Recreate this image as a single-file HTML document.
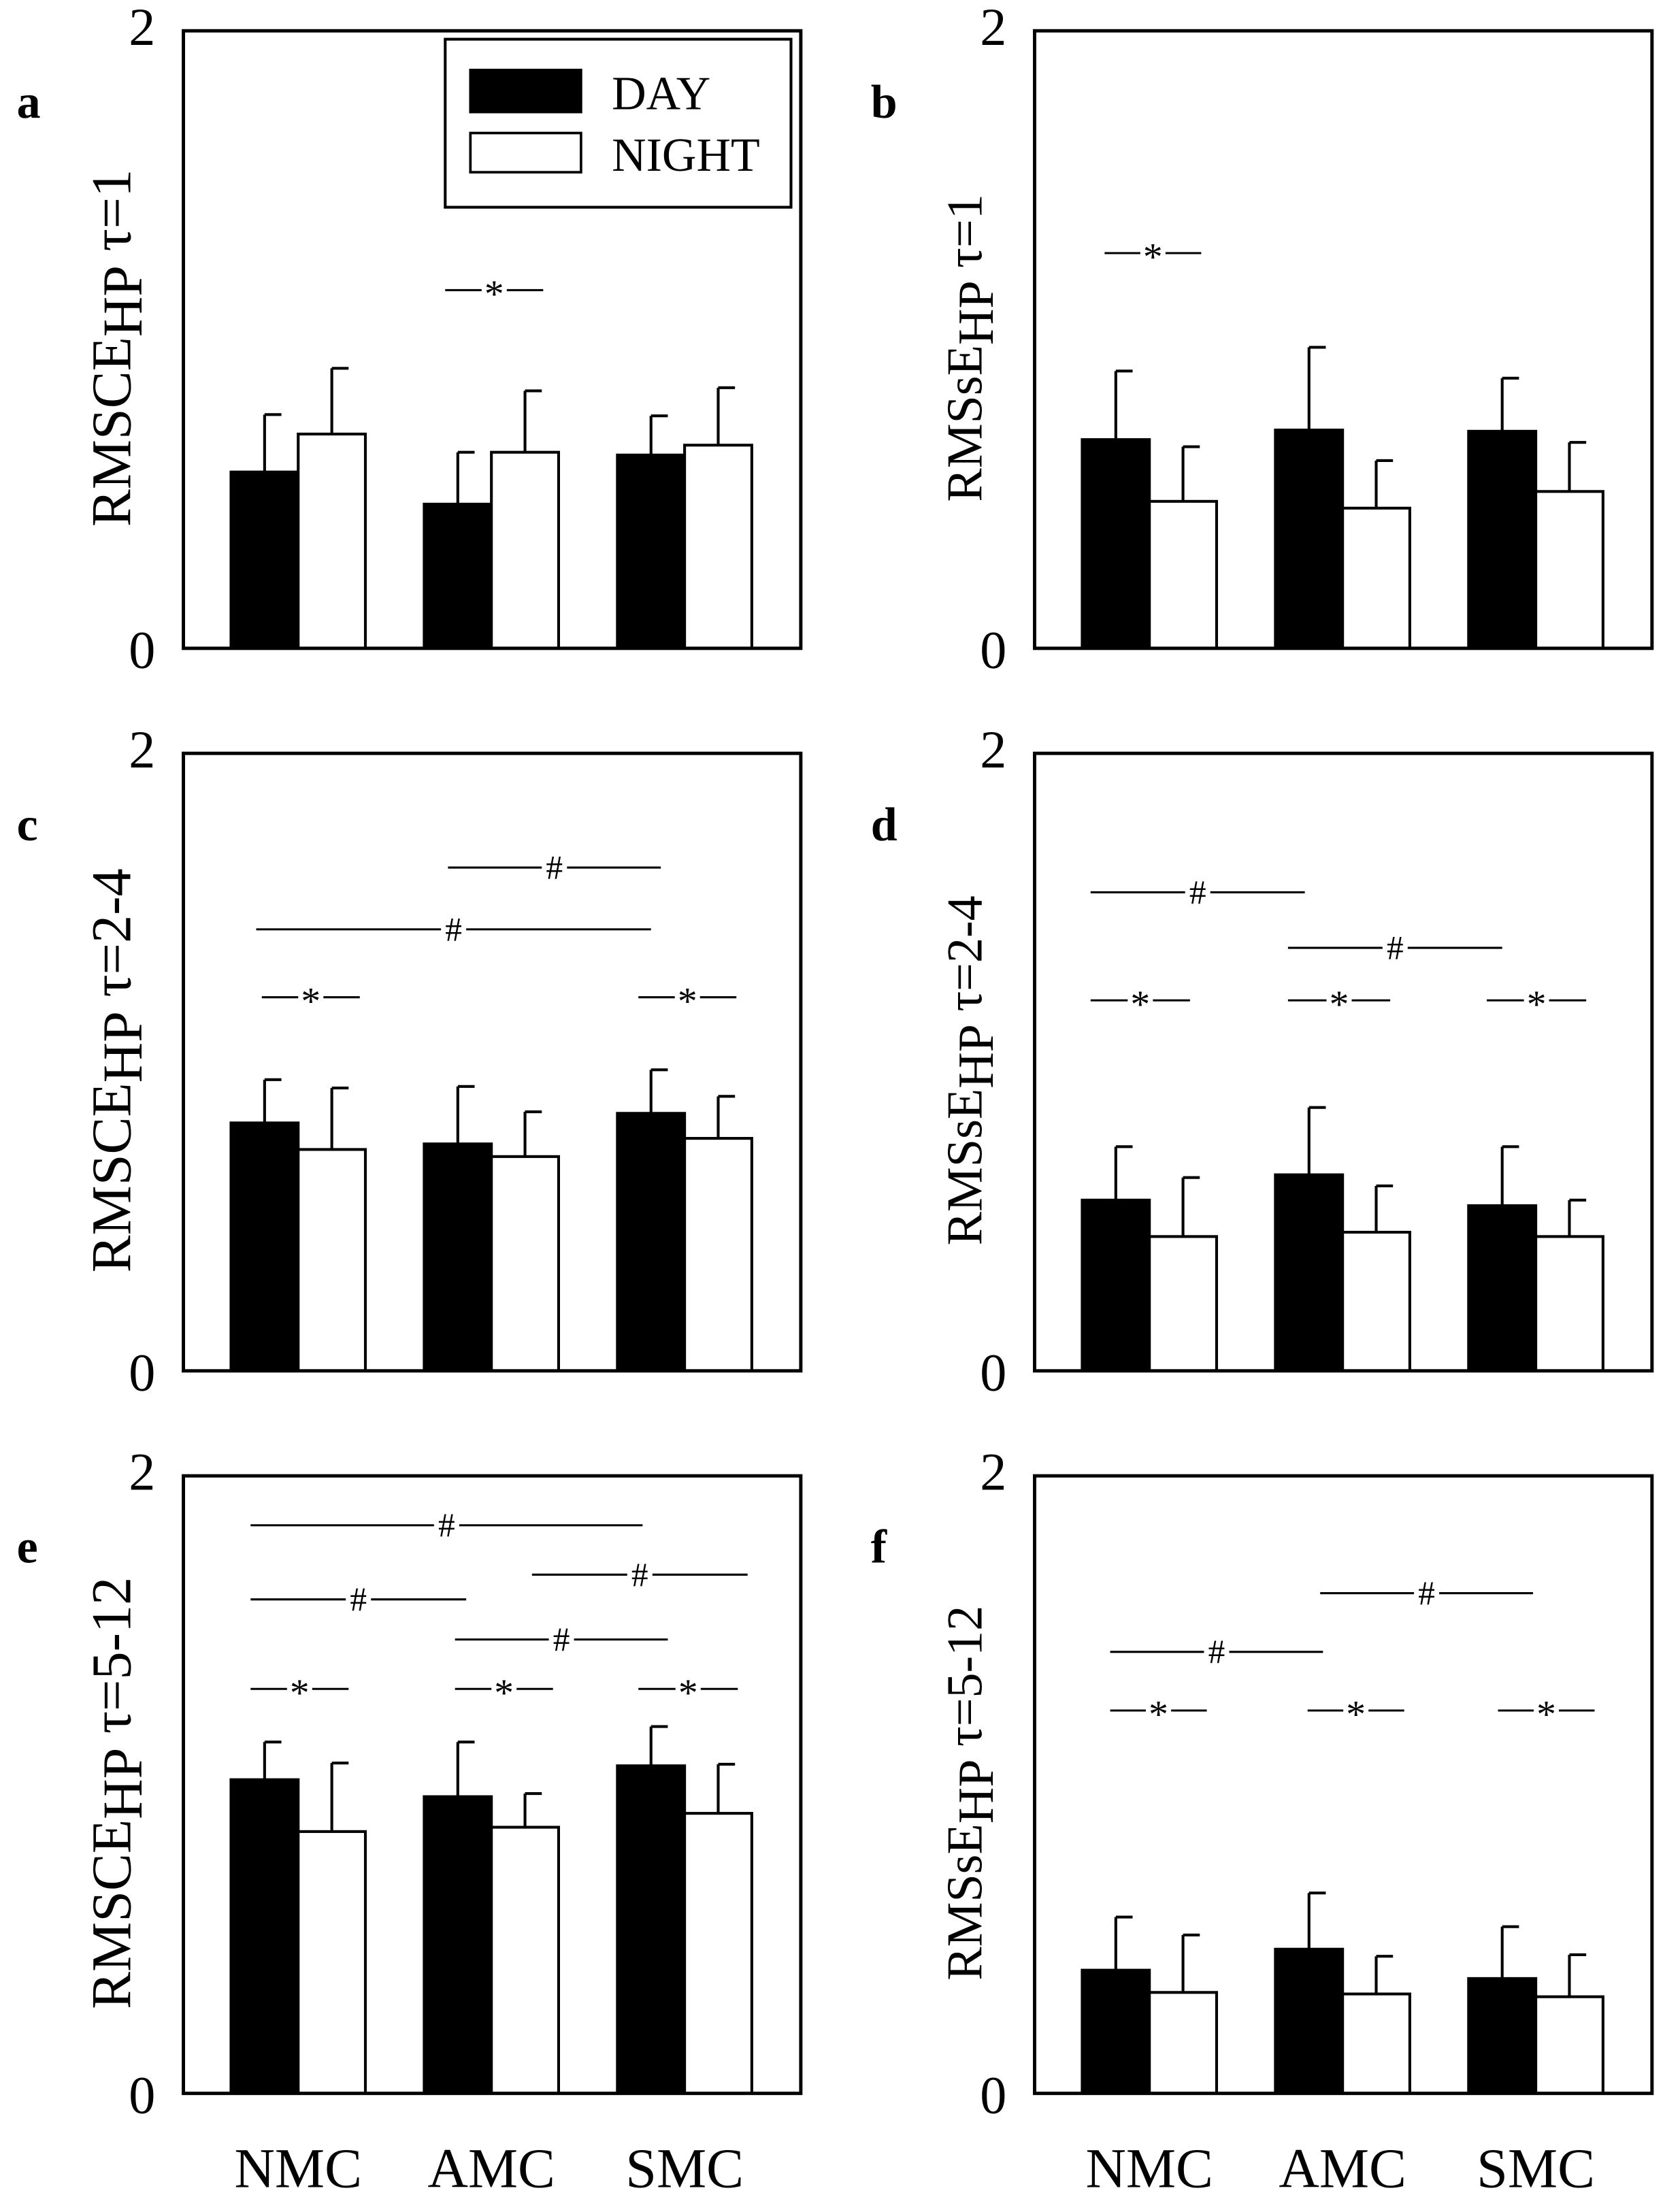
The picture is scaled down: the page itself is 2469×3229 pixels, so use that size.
<!DOCTYPE html>
<html><head><meta charset="utf-8">
<style>
html,body{margin:0;padding:0;background:#fff;}
svg{display:block;}
text{font-family:"Liberation Serif",serif;fill:#000;}
</style></head>
<body>
<svg id="fig" width="2469" height="3229" viewBox="0 0 1200 1569" preserveAspectRatio="none" xmlns="http://www.w3.org/2000/svg"></svg>
<script>
const categories = ["NMC","AMC","SMC"];
const panelLetters = ["a","b","c","d","e","f"];
const dayMeans = [
  [0.571,0.467,0.626],[0.676,0.707,0.703],
  [0.803,0.735,0.834],[0.553,0.635,0.535],
  [1.016,0.961,1.061],[0.399,0.467,0.372]];
const dayErr = [
  [0.757,0.635,0.753],[0.898,0.975,0.875],
  [0.943,0.921,0.975],[0.726,0.853,0.726],
  [1.138,1.138,1.188],[0.571,0.649,0.540]];
const nightMeans = [
  [0.694,0.635,0.658],[0.476,0.454,0.508],
  [0.717,0.694,0.753],[0.435,0.449,0.435],
  [0.848,0.862,0.907],[0.327,0.322,0.313]];
const nightErr = [
  [0.907,0.834,0.844],[0.653,0.608,0.667],
  [0.916,0.839,0.889],[0.626,0.599,0.553],
  [1.070,0.971,1.066],[0.513,0.444,0.449]];
const yTicks = [0,2];
const yLabelMain = ["RMSCE","RMSsE","RMSCE","RMSsE","RMSCE","RMSsE"];
const yLabelTau = ["τ=1","τ=1","τ=2-4","τ=2-4","τ=5-12","τ=5-12"];
const annotations = [
  [[318,388,1.16,'*']],
  [[789,858,1.28,'*']],
  [[320,472,1.63,'#'],[183,465,1.43,'#'],[187,257,1.21,'*'],[456,526,1.21,'*']],
  [[779,932,1.55,'#'],[920,1073,1.37,'#'],[779,850,1.20,'*'],[920,993,1.20,'*'],[1062,1133,1.20,'*']],
  [[179,459,1.84,'#'],[179,333,1.60,'#'],[380,534,1.68,'#'],[325,477,1.47,'#'],[179,249,1.31,'*'],[325,395,1.31,'*'],[456,527,1.31,'*']],
  [[943,1095,1.62,'#'],[793,945,1.43,'#'],[793,862,1.24,'*'],[934,1003,1.24,'*'],[1070,1139,1.24,'*']]
];
const NS="http://www.w3.org/2000/svg";
const svg=document.getElementById('fig');
function mk(tag,attrs,parent){const e=document.createElementNS(NS,tag);for(const k in attrs)e.setAttribute(k,attrs[k]);(parent||svg).appendChild(e);return e;}
const colX=[131,739], rowY=[22,538,1054], W=441, H=441;
for(let p=0;p<6;p++){
  const col=p%2,row=Math.floor(p/2);
  const x0=colX[col], y0=rowY[row];
  const yS=v=>y0+H-v/2*H;
  const xS=(g,s)=>x0+34+g*138+s*48;
  const g=mk('g',{});
  
  
  for(let i=0;i<3;i++){
    [[dayMeans,dayErr,'#000','day'],[nightMeans,nightErr,'#fff','night']].forEach((s,si)=>{
      const m=s[0][p][i], e=s[1][p][i];
      const bx=xS(i,si), cx=bx+24;
      const ln=mk('line',{x1:cx,x2:cx,y1:yS(m),y2:yS(e),stroke:'#000','stroke-width':2},g);
      
      
      const cap=mk('line',{x1:cx,x2:cx+12,y1:yS(e),y2:yS(e),stroke:'#000','stroke-width':2},g);
      
      
      const r=mk('rect',{x:bx,y:yS(m),width:48,height:yS(0)-yS(m),fill:s[2],stroke:'#000','stroke-width':2},g);
      
      
    });
  }
  const box=mk('rect',{x:x0,y:y0,width:W,height:H,fill:'none',stroke:'#000','stroke-width':2.4},g);
  
  
  yTicks.forEach(t=>{
    const tx=mk('text',{x:x0-20,y:yS(t)+(t===0?14:10),'font-size':38,'text-anchor':'end'},g);
    tx.textContent=t;
    
    
  });
  const lt=mk('text',{x:col?622:12,y:y0+62,'font-size':34,'font-weight':'bold'},g);
  lt.textContent=panelLetters[p];
  
  
  const yl=mk('text',{transform:`translate(${x0-38},${y0+H/2+6}) rotate(-90)`,'font-size':col?36:40,'text-anchor':'middle'},g);
  
  
  const t1=mk('tspan',{},yl);t1.textContent=yLabelMain[p];
  const t2=mk('tspan',{dy:8},yl);t2.textContent='HP';
  const t3=mk('tspan',{dy:-8},yl);t3.textContent=' '+yLabelTau[p];
  annotations[p].forEach(a=>{
    const [x1,x2,v,sym]=a, y=yS(v), mid=(x1+x2)/2, gap=9;
    const l1=mk('line',{x1:x1,x2:mid-gap,y1:y,y2:y,stroke:'#000','stroke-width':1.5},g);
    
    
    const l2=mk('line',{x1:mid+gap,x2:x2,y1:y,y2:y,stroke:'#000','stroke-width':1.5},g);
    
    
    const st=mk('text',{x:mid,y:y+(sym==='*'?12:8),'font-size':sym==='*'?28:24,'text-anchor':'middle'},g);
    st.textContent=sym;
    
    
  });
  if(row===2){
    for(let i=0;i<3;i++){
      const xl=mk('text',{x:xS(i,1),y:1562,'font-size':40,'text-anchor':'middle'},g);
      xl.textContent=categories[i];
      
      
    }
  }
}
const lg=mk('g',{});


mk('rect',{x:318,y:28,width:247,height:120,fill:'#fff',stroke:'#000','stroke-width':2},lg);
const s1=mk('rect',{x:336,y:50,width:79,height:30,fill:'#000',stroke:'#000','stroke-width':1.8},lg);


const s2=mk('rect',{x:336,y:95,width:79,height:28,fill:'#fff',stroke:'#000','stroke-width':1.8},lg);


const d1=mk('text',{x:437,y:78,'font-size':34},lg);d1.textContent='DAY';


const d2=mk('text',{x:437,y:122,'font-size':34},lg);d2.textContent='NIGHT';


</script>
</body></html>
